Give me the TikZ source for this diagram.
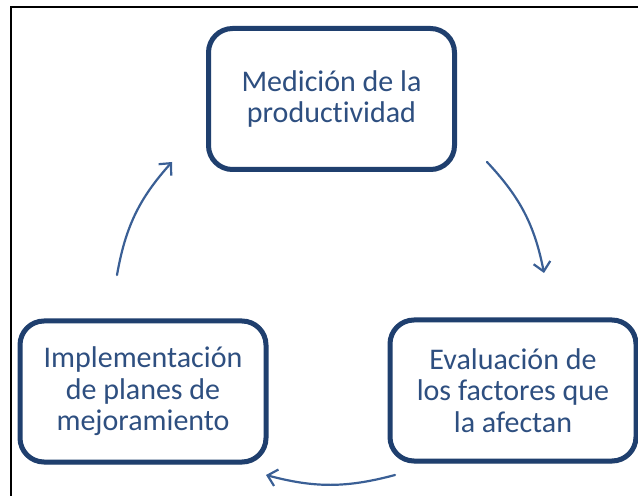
\documentclass[tikz,border=0pt]{standalone}
\usepackage{fontspec}
\setmainfont[Ligatures={NoCommon}]{Carlito}
\usetikzlibrary{arrows.meta,shadows}
\definecolor{boxblue}{HTML}{1F3F6E}
\definecolor{txtblue}{HTML}{2E4F80}
\definecolor{arrblue}{HTML}{3A5F95}
\begin{document}
\begin{tikzpicture}[x=1pt,y=1pt,
  stage/.style={draw=boxblue, line width=5pt, rounded corners=24pt, fill=white,
    minimum width=246pt, minimum height=141pt, align=center, text=txtblue,
    font=\fontsize{30}{31.5}\selectfont,
    drop shadow={shadow xshift=1pt, shadow yshift=-2.5pt, opacity=0.3, fill=gray}},
  cyc/.style={draw=arrblue, line width=2.2pt, line cap=round,
    -{Straight Barb[length=9pt,width=17pt,line width=2.2pt]}},
  frame/.style={draw=black, line width=2.5pt}]
\useasboundingbox (0,0) rectangle (638,496);
% frame (top and left edges only)
\coordinate (fTR) at (638,489);
\coordinate (fTL) at (11,489);
\coordinate (fBL) at (11,0);
\draw[frame] (fTR) -- (fTL) -- (fBL);
% stages
\node[stage] (med) at (331.5,397) {Medición de la\\productividad};
\node[stage] (eva) at (513,105.5) {Evaluación de\\los factores que\\la afectan};
\node[stage] (imp) at (143,104.5) {Implementación\\de planes de\\mejoramiento};
% arrow anchors
\coordinate (a1s) at (487,334);
\coordinate (a1e) at (544,223);
\coordinate (a2s) at (395,21);
\coordinate (a2e) at (266,21);
\coordinate (a3s) at (117,221);
\coordinate (a3e) at (172,334);
\draw[cyc] (a1s) to[bend left=16] (a1e);
\draw[cyc] (a2s) to[bend left=15] (a2e);
\draw[cyc] (a3s) to[bend left=16] (a3e);
\end{tikzpicture}
\end{document}
